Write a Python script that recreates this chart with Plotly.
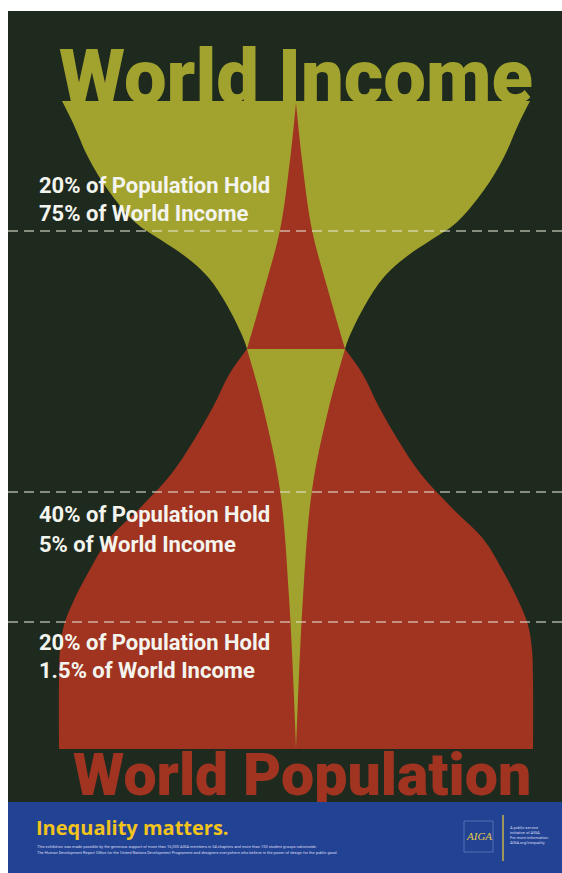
import plotly.graph_objects as go

W, H = 562, 873
CX = 296  # centre of the hourglass (axis units = pixels)

# ---- outline data read from the poster (vertical position, half width) ----
upper_y = [101, 123, 157, 190, 223, 240, 257, 277, 307, 340, 349]
upper_half = [234, 223, 208, 188, 160, 135, 110, 88, 68, 52, 49]

top_spike_y = [103, 160, 230, 290, 349]
top_spike_half = [0, 6, 16, 32, 49]

lower_y = [349, 373, 407, 440, 473, 507, 540, 573, 600, 625, 650, 680, 749]
lower_half = [49, 66, 83, 102, 124, 155, 188, 208, 222, 232, 236, 237, 237]

bottom_spike_y = [349, 407, 490, 597, 748]
bottom_spike_half = [49, 33, 16, 7, 0]

divider_y = [231, 492, 622]

label_line1 = ["20% of Population Hold", "40% of Population Hold", "20% of Population Hold"]
label_line2 = ["75% of World Income", "5% of World Income", "1.5% of World Income"]
label_y1 = [185, 514, 642]
label_y2 = [213, 544, 670]

DARK = "#1f2a1f"
OLIVE = "#a2a32e"
RED = "#a03421"
BLUE = "#224294"
YELLOW = "#f2c41c"

fig = go.Figure()


def add_band(ys, halves, color):
    fig.add_trace(go.Scatter(
        x=[CX - h for h in halves], y=ys, mode="lines",
        line=dict(width=0, shape="spline", smoothing=1), hoverinfo="skip", showlegend=False))
    fig.add_trace(go.Scatter(
        x=[CX + h for h in halves], y=ys, mode="lines",
        line=dict(width=0, shape="spline", smoothing=1), fill="tonextx", fillcolor=color,
        hoverinfo="skip", showlegend=False))


add_band(upper_y, upper_half, OLIVE)
add_band(lower_y, lower_half, RED)
add_band(top_spike_y, top_spike_half, RED)
add_band(bottom_spike_y, bottom_spike_half, OLIVE)

# titles as text traces (so the banner can sit over the lower title)
fig.add_trace(go.Scatter(
    x=[59], y=[84], mode="text", text=["World Income"], textposition="middle right",
    textfont=dict(family="Roboto", size=76, color=OLIVE, weight=900),
    hoverinfo="skip", showlegend=False))
fig.add_trace(go.Scatter(
    x=[73], y=[780], mode="text", text=["World Population"], textposition="middle right",
    textfont=dict(family="Roboto", size=59, color=RED, weight=900),
    hoverinfo="skip", showlegend=False))

shapes = [
    dict(type="rect", xref="x", yref="y", x0=8, x1=W, y0=11, y1=802,
         fillcolor=DARK, line=dict(width=0), layer="below"),
    dict(type="rect", xref="x", yref="y", x0=8, x1=W, y0=802, y1=H,
         fillcolor=BLUE, line=dict(width=0), layer="above"),
    dict(type="rect", xref="x", yref="y", x0=464, x1=493, y0=821, y1=852,
         fillcolor="rgba(0,0,0,0)", line=dict(width=1, color="rgba(120,140,200,0.6)"), layer="above"),
    dict(type="line", xref="x", yref="y", x0=503, x1=503, y0=815, y1=861,
         line=dict(width=1.5, color="#c9b347"), layer="above"),
]
for yv in divider_y:
    shapes.append(dict(type="line", xref="x", yref="y", x0=8, x1=W, y0=yv, y1=yv,
                       line=dict(width=1.5, color="rgba(230,230,215,0.7)", dash="10px,6px"),
                       layer="above"))

annotations = []
for l1, l2, y1, y2 in zip(label_line1, label_line2, label_y1, label_y2):
    for txt, yy in ((l1, y1), (l2, y2)):
        annotations.append(dict(x=37, y=yy, xref="x", yref="y", text=txt, showarrow=False,
                                xanchor="left", yanchor="middle",
                                font=dict(family="Roboto", size=22, color="#f4f4ee", weight=700)))

annotations.append(dict(x=34, y=827, xref="x", yref="y", text="Inequality matters.", showarrow=False,
                        xanchor="left", yanchor="middle",
                        font=dict(family="Open Sans", size=20, color=YELLOW, weight=700)))
fine1 = ("This exhibition was made possible by the generous support of more than 16,000 AIGA members in 54 chapters "
         "and more than 150 student groups nationwide.")
fine2 = ("The Human Development Report Office for the United Nations Development Programme and designers everywhere "
         "who believe in the power of design for the public good.")
for txt, yy in ((fine1, 846), (fine2, 852)):
    annotations.append(dict(x=35, y=yy, xref="x", yref="y", text=txt, showarrow=False,
                            xanchor="left", yanchor="middle",
                            font=dict(family="Roboto", size=4, color="#d8dcf0")))
annotations.append(dict(x=478.5, y=836, xref="x", yref="y", text="<i>AIGA</i>", showarrow=False,
                        xanchor="center", yanchor="middle",
                        font=dict(family="Liberation Serif", size=11, color="#e3c64a")))
for txt, yy in (("A public service", 827), ("initiative of AIGA.", 832),
                ("For more information:", 837), ("AIGA.org/inequality", 842)):
    annotations.append(dict(x=508, y=yy, xref="x", yref="y", text=txt, showarrow=False,
                            xanchor="left", yanchor="middle",
                            font=dict(family="Roboto", size=4, color="#d8dcf0")))

fig.update_layout(
    width=W, height=H, margin=dict(l=0, r=0, t=0, b=0),
    paper_bgcolor="white", plot_bgcolor="rgba(0,0,0,0)",
    xaxis=dict(range=[0, W], visible=False, fixedrange=True),
    yaxis=dict(range=[H, 0], visible=False, fixedrange=True),
    shapes=shapes, annotations=annotations, showlegend=False,
)

fig.write_html(
    "out.html",
    config={"displayModeBar": False},
    post_script="document.body.style.margin='0';document.body.style.overflow='hidden';",
)
